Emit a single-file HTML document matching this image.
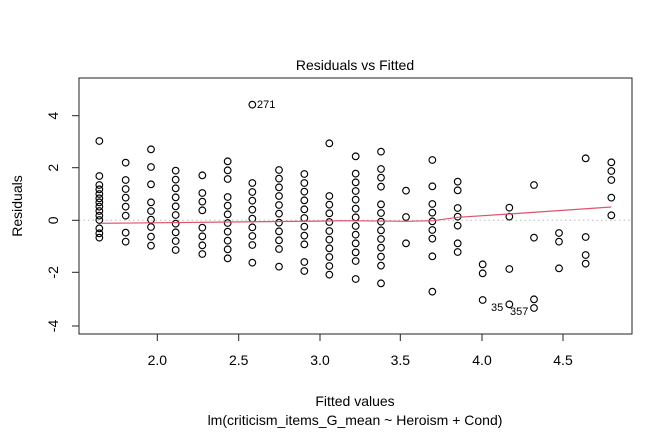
<!DOCTYPE html>
<html><head><style>html,body{margin:0;padding:0;background:#fff}svg{display:block}text{font-family:"Liberation Sans",Arial,sans-serif;fill:#000}</style></head>
<body>
<svg width="672" height="432" viewBox="0 0 672 432" xmlns="http://www.w3.org/2000/svg">
<rect x="0" y="0" width="672" height="432" fill="#fff"/>
<text x="355" y="70" font-size="14" text-anchor="middle">Residuals vs Fitted</text>
<text x="355" y="406" font-size="14" text-anchor="middle">Fitted values</text>
<text x="355" y="425" font-size="14" text-anchor="middle">lm(criticism_items_G_mean ~ Heroism + Cond)</text>
<text transform="translate(22,206) rotate(-90)" font-size="14" text-anchor="middle">Residuals</text>
<line x1="79" y1="220.3" x2="632" y2="220.3" stroke="#bbb" stroke-width="1" stroke-dasharray="1.5,3"/>
<rect x="79" y="78" width="553" height="256" fill="none" stroke="#222" stroke-width="1"/>
<g stroke="#222" stroke-width="1">
<line x1="157.3" y1="334" x2="157.3" y2="341"/><line x1="238.7" y1="334" x2="238.7" y2="341"/><line x1="320" y1="334" x2="320" y2="341"/><line x1="400.3" y1="334" x2="400.3" y2="341"/><line x1="482" y1="334" x2="482" y2="341"/><line x1="563" y1="334" x2="563" y2="341"/>
<line x1="72" y1="115.7" x2="79" y2="115.7"/><line x1="72" y1="167.7" x2="79" y2="167.7"/><line x1="72" y1="220.3" x2="79" y2="220.3"/><line x1="72" y1="272.3" x2="79" y2="272.3"/><line x1="72" y1="326" x2="79" y2="326"/>
</g>
<g font-size="14" text-anchor="middle">
<text x="157.3" y="365">2.0</text><text x="238.7" y="365">2.5</text><text x="320" y="365">3.0</text><text x="400.3" y="365">3.5</text><text x="482" y="365">4.0</text><text x="563" y="365">4.5</text>
<text transform="translate(58,115.7) rotate(-90)">4</text><text transform="translate(58,167.7) rotate(-90)">2</text><text transform="translate(58,220.3) rotate(-90)">0</text><text transform="translate(58,272.3) rotate(-90)">-2</text><text transform="translate(58,326) rotate(-90)">-4</text>
</g>
<g fill="none" stroke="#000" stroke-width="3.4">
<g transform="translate(40,70) scale(0.33333)">
<g transform="translate(178,0)"><circle cy="213" r="10"/><circle cy="318" r="10"/><circle cy="345" r="10"/><circle cy="358" r="10"/><circle cy="372" r="10"/><circle cy="385" r="10"/><circle cy="397" r="10"/><circle cy="410" r="10"/><circle cy="423" r="10"/><circle cy="437" r="10"/><circle cy="450" r="10"/><circle cy="475" r="10"/><circle cy="490" r="10"/><circle cy="503" r="10"/></g>
<g transform="translate(257,0)"><circle cy="278" r="10"/><circle cy="330" r="10"/><circle cy="357" r="10"/><circle cy="383" r="10"/><circle cy="410" r="10"/><circle cy="437" r="10"/><circle cy="488" r="10"/><circle cy="515" r="10"/></g>
<g transform="translate(333,0)"><circle cy="238" r="10"/><circle cy="291" r="10"/><circle cy="343" r="10"/><circle cy="397" r="10"/><circle cy="423" r="10"/><circle cy="449" r="10"/><circle cy="471" r="10"/><circle cy="500" r="10"/><circle cy="527" r="10"/></g>
<g transform="translate(407,0)"><circle cy="302" r="10"/><circle cy="329" r="10"/><circle cy="355" r="10"/><circle cy="382" r="10"/><circle cy="409" r="10"/><circle cy="435" r="10"/><circle cy="461" r="10"/><circle cy="487" r="10"/><circle cy="513" r="10"/><circle cy="540" r="10"/></g>
<g transform="translate(487,0)"><circle cy="316" r="10"/><circle cy="369" r="10"/><circle cy="395" r="10"/><circle cy="421" r="10"/><circle cy="473" r="10"/><circle cy="499" r="10"/><circle cy="526" r="10"/><circle cy="552" r="10"/></g>
<g transform="translate(563,0)"><circle cy="274" r="10"/><circle cy="301" r="10"/><circle cy="327" r="10"/><circle cy="381" r="10"/><circle cy="407" r="10"/><circle cy="433" r="10"/><circle cy="459" r="10"/><circle cy="485" r="10"/><circle cy="512" r="10"/><circle cy="538" r="10"/><circle cy="565" r="10"/></g>
<g transform="translate(637,0)"><circle cy="104" r="10"/><circle cy="339" r="10"/><circle cy="366" r="10"/><circle cy="392" r="10"/><circle cy="419" r="10"/><circle cy="446" r="10"/><circle cy="472" r="10"/><circle cy="498" r="10"/><circle cy="525" r="10"/><circle cy="578" r="10"/></g>
<g transform="translate(717,0)"><circle cy="300" r="10"/><circle cy="326" r="10"/><circle cy="352" r="10"/><circle cy="378" r="10"/><circle cy="405" r="10"/><circle cy="431" r="10"/><circle cy="458" r="10"/><circle cy="484" r="10"/><circle cy="511" r="10"/><circle cy="537" r="10"/><circle cy="590" r="10"/></g>
<g transform="translate(793,0)"><circle cy="312" r="10"/><circle cy="339" r="10"/><circle cy="365" r="10"/><circle cy="391" r="10"/><circle cy="418" r="10"/><circle cy="444" r="10"/><circle cy="470" r="10"/><circle cy="497" r="10"/><circle cy="523" r="10"/><circle cy="576" r="10"/><circle cy="603" r="10"/></g>
<g transform="translate(868,0)"><circle cy="220" r="10"/><circle cy="378" r="10"/><circle cy="404" r="10"/><circle cy="430" r="10"/><circle cy="456" r="10"/><circle cy="483" r="10"/><circle cy="509" r="10"/><circle cy="535" r="10"/><circle cy="561" r="10"/><circle cy="588" r="10"/><circle cy="614" r="10"/></g>
</g>
<g transform="translate(340,70) scale(0.33333)">
<g transform="translate(47,0)"><circle cy="259" r="10"/><circle cy="311" r="10"/><circle cy="337" r="10"/><circle cy="363" r="10"/><circle cy="389" r="10"/><circle cy="416" r="10"/><circle cy="442" r="10"/><circle cy="468" r="10"/><circle cy="494" r="10"/><circle cy="520" r="10"/><circle cy="547" r="10"/><circle cy="573" r="10"/><circle cy="627" r="10"/></g>
<g transform="translate(123,0)"><circle cy="245" r="10"/><circle cy="297" r="10"/><circle cy="323" r="10"/><circle cy="350" r="10"/><circle cy="403" r="10"/><circle cy="429" r="10"/><circle cy="455" r="10"/><circle cy="481" r="10"/><circle cy="507" r="10"/><circle cy="533" r="10"/><circle cy="560" r="10"/><circle cy="587" r="10"/><circle cy="640" r="10"/></g>
<g transform="translate(198,0)"><circle cy="362" r="10"/><circle cy="441" r="10"/><circle cy="520" r="10"/></g>
<g transform="translate(277,0)"><circle cy="270" r="10"/><circle cy="349" r="10"/><circle cy="402" r="10"/><circle cy="428" r="10"/><circle cy="454" r="10"/><circle cy="480" r="10"/><circle cy="506" r="10"/><circle cy="559" r="10"/><circle cy="665" r="10"/></g>
<g transform="translate(353,0)"><circle cy="335" r="10"/><circle cy="361" r="10"/><circle cy="414" r="10"/><circle cy="440" r="10"/><circle cy="467" r="10"/><circle cy="520" r="10"/><circle cy="546" r="10"/></g>
<g transform="translate(428,0)"><circle cy="583" r="10"/><circle cy="610" r="10"/><circle cy="690" r="10"/></g>
<g transform="translate(508,0)"><circle cy="413" r="10"/><circle cy="440" r="10"/><circle cy="597" r="10"/><circle cy="703" r="10"/></g>
<g transform="translate(582,0)"><circle cy="345" r="10"/><circle cy="503" r="10"/><circle cy="688" r="10"/><circle cy="714" r="10"/></g>
<g transform="translate(657,0)"><circle cy="489" r="10"/><circle cy="515" r="10"/><circle cy="595" r="10"/></g>
<g transform="translate(737,0)"><circle cy="265" r="10"/><circle cy="501" r="10"/><circle cy="555" r="10"/><circle cy="581" r="10"/></g>
<g transform="translate(814,0)"><circle cy="277" r="10"/><circle cy="303" r="10"/><circle cy="330" r="10"/><circle cy="383" r="10"/><circle cy="436" r="10"/></g>
</g>
</g>
<polyline fill="none" stroke="#df536b" stroke-width="1.2" points="101.7,223.3 329.3,221 340,220.7 406.7,221.3 433.3,220.7 457.7,217.3 509.3,214 611.3,207"/>
<text x="257" y="108" font-size="11">271</text>
<text x="491" y="311" font-size="11">35</text>
<text x="510" y="315" font-size="11">357</text>
</svg>
</body></html>
